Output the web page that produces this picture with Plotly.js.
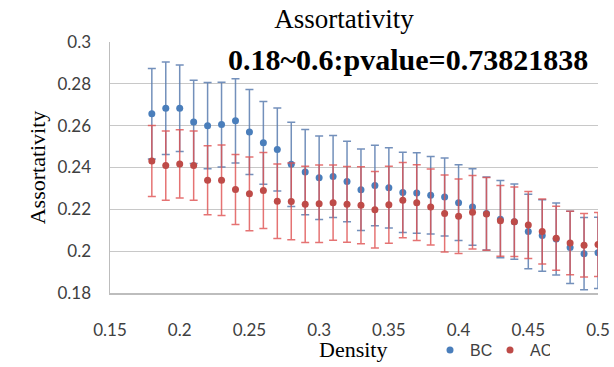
<!DOCTYPE html>
<html>
<head>
<meta charset="utf-8">
<script src="https://cdn.plot.ly/plotly-3.0.1.min.js"></script>
<style>html,body{margin:0;padding:0;background:#fff;}#chart{width:614px;height:367px;}</style>
</head>
<body>
<div id="chart"></div>
<script>
const density = [0.18,0.19,0.20,0.21,0.22,0.23,0.24,0.25,0.26,0.27,0.28,0.29,0.30,0.31,0.32,0.33,0.34,0.35,0.36,0.37,0.38,0.39,0.40,0.41,0.42,0.43,0.44,0.45,0.46,0.47,0.48,0.49,0.50];
const bcValues = [0.2657,0.2683,0.2683,0.2618,0.2600,0.2605,0.2623,0.2570,0.2518,0.2486,0.2415,0.2378,0.2351,0.2357,0.2333,0.2294,0.2314,0.2303,0.2281,0.2278,0.2267,0.2259,0.2232,0.2211,0.2180,0.2153,0.2141,0.2094,0.2075,0.2058,0.2018,0.1988,0.1992];
const bcErrors = [0.0216,0.0221,0.0207,0.0199,0.0206,0.0203,0.0201,0.0203,0.0198,0.0198,0.0201,0.0204,0.0200,0.0196,0.0192,0.0195,0.0192,0.0192,0.0192,0.0192,0.0185,0.0187,0.0181,0.0183,0.0175,0.0185,0.0180,0.0178,0.0171,0.0172,0.0173,0.0173,0.0170];
const acValues = [0.2431,0.2409,0.2417,0.2409,0.2339,0.2339,0.2295,0.2274,0.2290,0.2239,0.2238,0.2224,0.2227,0.2232,0.2224,0.2219,0.2198,0.2222,0.2244,0.2232,0.2211,0.2180,0.2167,0.2186,0.2178,0.2145,0.2141,0.2125,0.2094,0.2062,0.2039,0.2028,0.2032];
const acErrors = [0.0170,0.0166,0.0163,0.0166,0.0165,0.0168,0.0167,0.0176,0.0182,0.0178,0.0183,0.0182,0.0185,0.0180,0.0181,0.0184,0.0183,0.0184,0.0180,0.0181,0.0182,0.0184,0.0178,0.0176,0.0174,0.0169,0.0166,0.0160,0.0155,0.0153,0.0152,0.0152,0.0153];
const seriesNames = ["BC", "AC"];
const xTicks = [0.15,0.2,0.25,0.3,0.35,0.4,0.45,0.5];
const yTicks = [0.18,0.2,0.22,0.24,0.26,0.28,0.3];

const traces = [
  {x: density, y: bcValues, name: seriesNames[0], type: 'scatter', mode: 'markers',
   marker: {color: '#4a7ebb', size: 7},
   error_y: {type: 'data', array: bcErrors, visible: true, color: 'rgba(90,125,175,0.85)', thickness: 1.5, width: 4}},
  {x: density, y: acValues, name: seriesNames[1], type: 'scatter', mode: 'markers',
   marker: {color: '#be4b48', size: 7},
   error_y: {type: 'data', array: acErrors, visible: true, color: 'rgba(222,80,80,0.8)', thickness: 1.5, width: 4}}
];

const layout = {
  width: 614, height: 367,
  margin: {l: 110, r: 16, t: 42, b: 74},
  paper_bgcolor: '#fff', plot_bgcolor: '#fff',
  title: {text: 'Assortativity', font: {family: 'Liberation Serif', size: 27, color: '#000'},
          x: 344/614, xanchor: 'center', xref: 'container', y: 1 - 19/367, yanchor: 'middle', yref: 'container'},
  xaxis: {range: [0.15, 0.5], tickvals: xTicks, ticktext: xTicks.map(String), showgrid: false, zeroline: false, automargin: false,
          showline: true, linecolor: '#bdbdbd', linewidth: 1.5, ticks: '', ticklabelstandoff: 21,
          tickfont: {family: 'Lato', size: 17, color: '#404040'}},
  yaxis: {range: [0.18, 0.3], tickvals: yTicks, ticktext: yTicks.map(String), showgrid: true, gridcolor: '#c8c8c8', gridwidth: 1.3,
          zeroline: false, showline: true, linecolor: '#bdbdbd', linewidth: 1.5, ticks: '', ticklabelstandoff: 14, automargin: false,
          tickfont: {family: 'Lato', size: 17, color: '#404040'},
          title: {text: 'Assortativity', font: {family: 'Liberation Serif', size: 22, color: '#000'}, standoff: 6}},
  showlegend: true,
  legend: {orientation: 'h', xref: 'container', yref: 'container', x: 430/614, xanchor: 'left', y: 1 - 350/367, yanchor: 'middle',
           entrywidth: 15, entrywidthmode: 'pixels',
           font: {family: 'Liberation Sans', size: 16, color: '#404040'}, bgcolor: 'rgba(0,0,0,0)', itemsizing: 'trace'},
  annotations: [
    {text: '<b>0.18~0.6:pvalue=0.73821838</b>', xref: 'paper', yref: 'paper', x: (590-110)/488, xanchor: 'right',
     y: (293-59)/251, yanchor: 'middle', showarrow: false,
     font: {family: 'Liberation Serif', size: 30, color: '#000'}},
    {text: 'Density', xref: 'paper', yref: 'paper', x: (353-110)/488, xanchor: 'center', y: (293-349)/251, yanchor: 'middle',
     showarrow: false, font: {family: 'Liberation Serif', size: 22, color: '#000'}}
  ]
};

Plotly.newPlot('chart', traces, layout, {displayModeBar: false, staticPlot: true});
</script>
</body>
</html>
